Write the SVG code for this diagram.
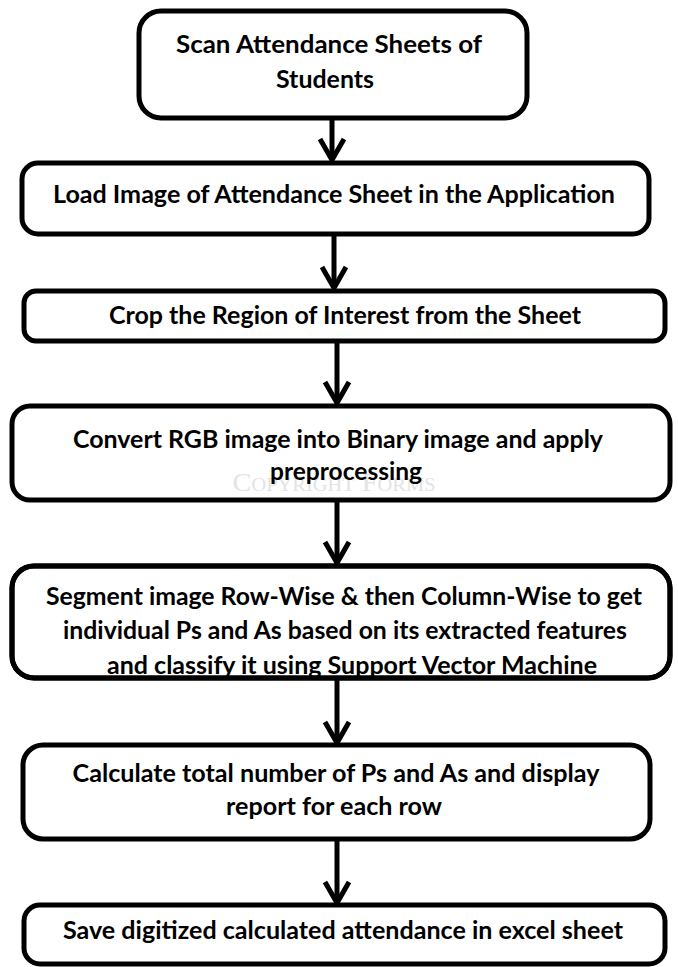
<svg xmlns="http://www.w3.org/2000/svg" width="678" height="967" viewBox="0 0 678 967">
  <style>
    .box { fill: #ffffff; stroke: #000000; stroke-width: 5; }
    .edge { fill: none; stroke: #000000; stroke-width: 5; }
    .lbl { font-family: Lato, "Open Sans", "Liberation Sans", sans-serif; font-weight: bold; font-size: 24px; fill: #000000; text-anchor: middle; }
    .wm { font-family: "Liberation Serif", "DejaVu Serif", serif; font-size: 25px; fill: #e3e3e3; text-anchor: middle; font-variant: small-caps; }
    .shaft { stroke: #000000; stroke-width: 5; fill: none; }
    .head { stroke: #000000; stroke-width: 5; fill: none; stroke-linejoin: miter; }
  </style>
  <defs>
    <!-- inner area of the segmentation box; its last line runs into the border -->
    <clipPath id="segClip">
      <rect x="12" y="566" width="658" height="110"/>
    </clipPath>
  </defs>

  <!-- connectors -->
  <g id="connectors">
    <line class="shaft" x1="332" y1="118" x2="332" y2="160"/>
    <polyline class="head" points="320,139 332,160 344,139"/>
    <line class="shaft" x1="334" y1="235" x2="334" y2="288"/>
    <polyline class="head" points="322,267 334,288 346,267"/>
    <line class="shaft" x1="337" y1="341" x2="337" y2="403"/>
    <polyline class="head" points="325,382 337,403 349,382"/>
    <line class="shaft" x1="337" y1="501" x2="337" y2="563"/>
    <polyline class="head" points="325,542 337,563 349,542"/>
    <line class="shaft" x1="337" y1="680" x2="337" y2="743"/>
    <polyline class="head" points="325,722 337,743 349,722"/>
    <line class="shaft" x1="337" y1="840" x2="337" y2="903"/>
    <polyline class="head" points="325,882 337,903 349,882"/>
  </g>

  <g id="scan">
    <rect class="box" x="139" y="11" width="388" height="107" rx="22"/>
    <text class="lbl" x="329" y="53" textLength="306" lengthAdjust="spacingAndGlyphs">Scan Attendance  Sheets of</text>
    <text class="lbl" x="325" y="88" textLength="98" lengthAdjust="spacingAndGlyphs">Students</text>
  </g>

  <g id="load">
    <rect class="box" x="22" y="163" width="627" height="71" rx="16"/>
    <text class="lbl" x="334" y="203" textLength="562" lengthAdjust="spacingAndGlyphs">Load Image of Attendance Sheet in the Application</text>
  </g>

  <g id="crop">
    <rect class="box" x="24" y="291" width="641" height="50" rx="12"/>
    <text class="lbl" x="345" y="324" textLength="472" lengthAdjust="spacingAndGlyphs">Crop the Region of Interest from the Sheet</text>
  </g>

  <g id="convert">
    <rect class="box" x="12" y="406" width="658" height="94" rx="18"/>
    <text class="lbl" x="338" y="448" textLength="530" lengthAdjust="spacingAndGlyphs">Convert RGB image into Binary image and apply</text>
    <text class="wm" x="334" y="491" textLength="203" lengthAdjust="spacingAndGlyphs">Copyright Forms</text>
    <text class="lbl" x="346" y="480" textLength="152" lengthAdjust="spacingAndGlyphs">preprocessing</text>
  </g>

  <g id="segment">
    <rect class="box" x="12" y="566" width="658" height="112" rx="22"/>
    <g clip-path="url(#segClip)">
      <text class="lbl" x="344" y="605" textLength="596" lengthAdjust="spacingAndGlyphs">Segment image Row-Wise &amp; then Column-Wise to get</text>
      <text class="lbl" x="345" y="639" textLength="564" lengthAdjust="spacingAndGlyphs">individual Ps and As based on its extracted features</text>
      <text class="lbl" x="352" y="674" textLength="490" lengthAdjust="spacingAndGlyphs">and classify it using Support Vector Machine</text>
    </g>
    <rect class="edge" x="12" y="566" width="658" height="112" rx="22"/>
  </g>

  <g id="calculate">
    <rect class="box" x="23" y="745" width="627" height="94" rx="20"/>
    <text class="lbl" x="336" y="782" textLength="527" lengthAdjust="spacingAndGlyphs">Calculate total number of Ps and As and display</text>
    <text class="lbl" x="334" y="815" textLength="216" lengthAdjust="spacingAndGlyphs">report for each row</text>
  </g>

  <g id="save">
    <rect class="box" x="24" y="905" width="641" height="59" rx="16"/>
    <text class="lbl" x="343" y="939" textLength="560" lengthAdjust="spacingAndGlyphs">Save digitized calculated attendance in excel sheet</text>
  </g>
</svg>
